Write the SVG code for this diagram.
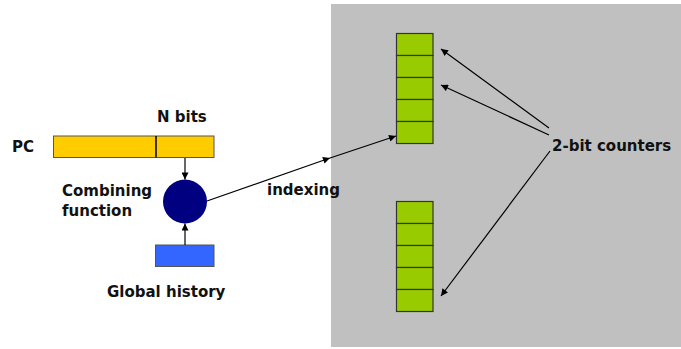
<svg xmlns="http://www.w3.org/2000/svg" width="681" height="349" viewBox="0 0 681 349">
  <style>
    text { font-family: "DejaVu Sans", Verdana, sans-serif; font-weight: bold; font-size: 15px; fill: #111; }
    .cell { fill: #99cc00; stroke: #333; stroke-width: 1.2; }
    .conn { stroke: #000; stroke-width: 1.2; fill: none; marker-end: url(#arrow); }
  </style>
  <defs>
    <marker id="arrow" viewBox="0 0 10 10" refX="10" refY="5" markerWidth="9" markerHeight="7" markerUnits="userSpaceOnUse" orient="auto">
      <path d="M0,0 L10,5 L0,10 z" fill="#000"/>
    </marker>
  </defs>

  <rect id="table-area" x="331" y="4" width="350" height="343" fill="#c0c0c0"/>

  <g id="pc">
    <rect x="53.5" y="136" width="160.5" height="21.5" fill="#ffcc00" stroke="#555" stroke-width="1"/>
    <line x1="156" y1="136" x2="156" y2="157.5" stroke="#000" stroke-width="1.5"/>
    <text x="12" y="152">PC</text>
    <text x="157" y="122">N bits</text>
  </g>

  <g id="combining">
    <circle cx="185" cy="201.5" r="22" fill="#000080"/>
    <text x="62" y="196">Combining</text>
    <text x="62" y="216">function</text>
  </g>

  <g id="global-history">
    <rect x="155.5" y="245" width="58.5" height="21.5" fill="#3366ff" stroke="#555" stroke-width="1"/>
    <text x="107" y="297">Global history</text>
  </g>

  <g id="table-upper">
    <rect class="cell" x="396.5" y="33.5" width="36.5" height="22"/>
    <rect class="cell" x="396.5" y="55.5" width="36.5" height="22"/>
    <rect class="cell" x="396.5" y="77.5" width="36.5" height="22"/>
    <rect class="cell" x="396.5" y="99.5" width="36.5" height="22"/>
    <rect class="cell" x="396.5" y="121.5" width="36.5" height="22"/>
  </g>

  <g id="table-lower">
    <rect class="cell" x="396.5" y="201.5" width="36.5" height="22"/>
    <rect class="cell" x="396.5" y="223.5" width="36.5" height="22"/>
    <rect class="cell" x="396.5" y="245.5" width="36.5" height="22"/>
    <rect class="cell" x="396.5" y="267.5" width="36.5" height="22"/>
    <rect class="cell" x="396.5" y="289.5" width="36.5" height="22"/>
  </g>

  <g id="counters-label">
    <text x="552" y="151">2-bit counters</text>
  </g>

  <g id="indexing-label">
    <text x="267" y="195">indexing</text>
  </g>

  <g id="connectors">
    <line class="conn" x1="185" y1="158" x2="185" y2="179.5"/>
    <line class="conn" x1="185" y1="245" x2="185" y2="223.5"/>
    <line class="conn" x1="207" y1="201" x2="330" y2="158"/>
    <line class="conn" x1="330" y1="158" x2="396" y2="136"/>
    <line class="conn" x1="549" y1="128" x2="441" y2="49"/>
    <line class="conn" x1="549" y1="135" x2="441" y2="85"/>
    <line class="conn" x1="550" y1="151" x2="441" y2="296"/>
  </g>
</svg>
